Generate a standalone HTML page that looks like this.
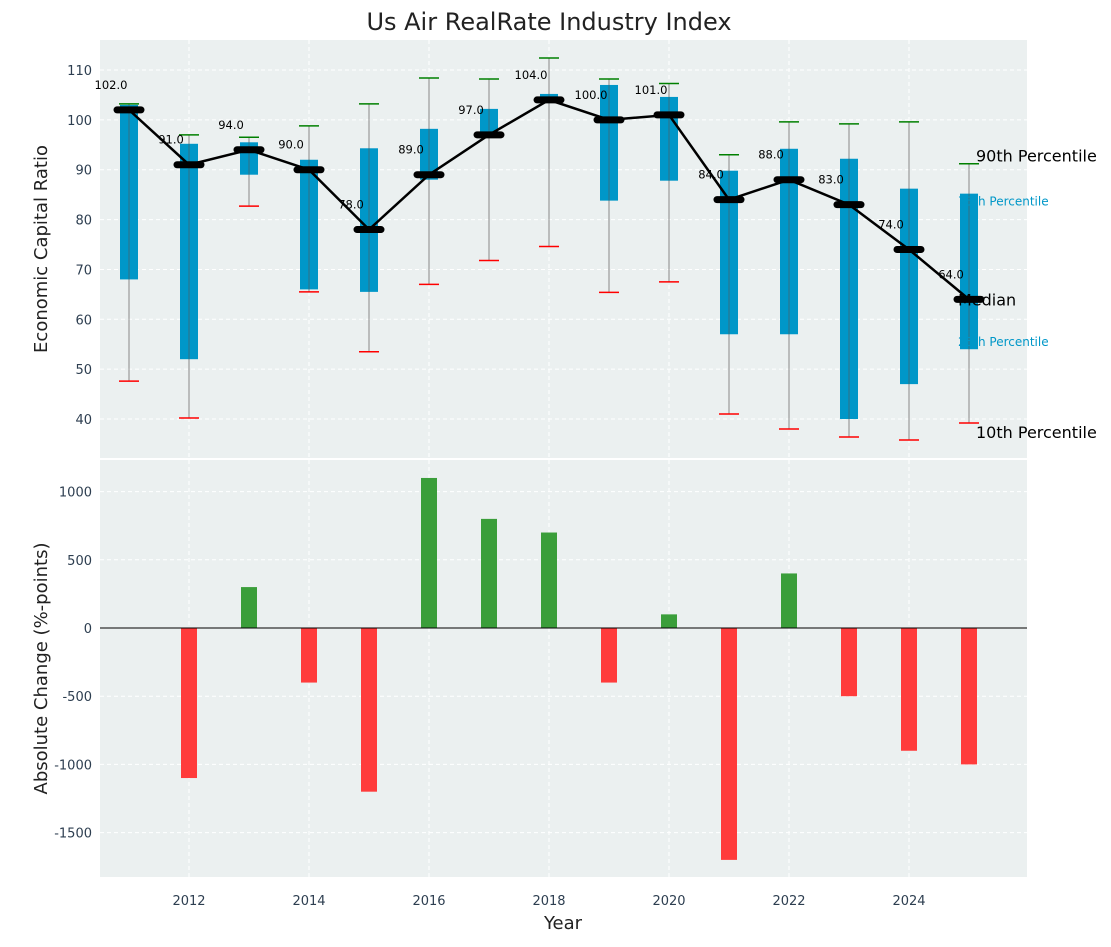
<!DOCTYPE html>
<html><head><meta charset="utf-8"><style>
body{margin:0;background:#fff;font-family:"Liberation Sans","DejaVu Sans",sans-serif;}
svg text{font-family:"DejaVu Sans","Liberation Sans",sans-serif;}
</style></head><body>
<svg id="c" width="1111" height="942" xmlns="http://www.w3.org/2000/svg"></svg>
<script>
const years=[2011,2012,2013,2014,2015,2016,2017,2018,2019,2020,2021,2022,2023,2024,2025];
const medians=[102,91,94,90,78,89,97,104,100,101,84,88,83,74,64];
const p25=[68,52,89,66,65.5,88,97,104,83.8,87.8,57,57,40,47,54];
const p75=[103,95.2,95.5,92,94.3,98.2,102.2,105.2,107,104.6,89.8,94.2,92.2,86.2,85.2];
const p10=[47.6,40.2,82.7,65.5,53.5,67,71.8,74.6,65.4,67.5,41,38,36.4,35.8,39.2];
const p90=[103.2,97,96.5,98.8,103.2,108.4,108.2,112.4,108.2,107.3,93,99.6,99.2,99.6,91.2];
const changes=[0,-1100,300,-400,-1200,1100,800,700,-400,100,-1700,400,-500,-900,-1000];
const yTicks1=[40,50,60,70,80,90,100,110];
const yTicks2=[-1500,-1000,-500,0,500,1000];
const xTicks=[2012,2014,2016,2018,2020,2022,2024];

const S=document.getElementById('c');const NS='http://www.w3.org/2000/svg';
function el(t,a,p){const e=document.createElementNS(NS,t);for(const k in a)e.setAttribute(k,a[k]);(p||S).appendChild(e);return e;}
const X0=100,X1=1027;
const x=v=>189+(v-2012)*60;
const y1=v=>70+(110-v)*4.986;
const y2=v=>628-v*0.1364;
const T1=40,B1=458,T2=460,B2=877;

let t=el('text',{x:549,y:30,'font-size':24,'text-anchor':'middle',fill:'#222'});t.textContent='Us Air RealRate Industry Index';


let bg=el('rect',{x:X0,y:T1,width:X1-X0,height:B1-T1,fill:'#ebf0f0'});

let bg2=el('rect',{x:X0,y:T2,width:X1-X0,height:B2-T2,fill:'#ebf0f0'});


xTicks.forEach(v=>{
 el('line',{x1:x(v),x2:x(v),y1:T1,y2:B1,stroke:'#fff','stroke-dasharray':'4,3'});
 el('line',{x1:x(v),x2:x(v),y1:T2,y2:B2,stroke:'#fff','stroke-dasharray':'4,3'});
 let l=el('text',{x:x(v),y:B2+28,'font-size':13,'text-anchor':'middle',fill:'#2d3e50'});l.textContent=v;
 
});
yTicks1.forEach(v=>{
 el('line',{x1:X0,x2:X1,y1:y1(v),y2:y1(v),stroke:'#fff','stroke-dasharray':'4,3'});
 let l=el('text',{x:X0-8,y:y1(v)+5,'font-size':13,'text-anchor':'end',fill:'#2d3e50'});l.textContent=v;
 
});
yTicks2.forEach(v=>{
 el('line',{x1:X0,x2:X1,y1:y2(v),y2:y2(v),stroke:'#fff','stroke-dasharray':'4,3'});
 let l=el('text',{x:X0-8,y:y2(v)+5,'font-size':13,'text-anchor':'end',fill:'#2d3e50'});l.textContent=v;
 
});

years.forEach((yr,i)=>{
 const cx=x(yr);
 let w=el('line',{x1:cx,x2:cx,y1:y1(p10[i]),y2:y1(p90[i]),stroke:'#888','stroke-width':1});
 
 let b=el('rect',{x:cx-9,y:y1(p75[i]),width:18,height:y1(p25[i])-y1(p75[i]),fill:'#0097c8'});
 
 el('line',{x1:cx,x2:cx,y1:y1(p75[i]),y2:y1(p25[i]),stroke:'#555','stroke-width':1,opacity:0.6});
 let c1=el('line',{x1:cx-10,x2:cx+10,y1:y1(p90[i]),y2:y1(p90[i]),stroke:'green','stroke-width':1.5});
 
 let c2=el('line',{x1:cx-10,x2:cx+10,y1:y1(p10[i]),y2:y1(p10[i]),stroke:'red','stroke-width':1.5});
 
});
let pl=el('polyline',{points:years.map((yr,i)=>x(yr)+','+y1(medians[i])).join(' '),fill:'none',stroke:'#000','stroke-width':2.5});

years.forEach((yr,i)=>{
 const cx=x(yr),cy=y1(medians[i]);
 let m=el('line',{x1:cx-12,x2:cx+12,y1:cy,y2:cy,stroke:'#000','stroke-width':7,'stroke-linecap':'round'});
 
 let l=el('text',{x:cx-18,y:cy-21,'font-size':11.5,'text-anchor':'middle',fill:'#000'});l.textContent=medians[i].toFixed(1);
 
});
const last=years.length-1,lx=x(years[last]);
[['90th Percentile',lx+7,y1(p90[last])-2,16,'#000','p90-annotation'],
 ['75th Percentile',lx-11,y1(p75[last])+12,12,'#0097c8','p75-annotation'],
 ['Median',lx-11,y1(medians[last])+6,16,'#000','median-annotation'],
 ['25th Percentile',lx-11,y1(p25[last])-3,12,'#0097c8','p25-annotation'],
 ['10th Percentile',lx+7,y1(p10[last])+15,16,'#000','p10-annotation']].forEach(a=>{
 let l=el('text',{x:a[1],y:a[2],'font-size':a[3],fill:a[4]});l.textContent=a[0];
 
});

years.forEach((yr,i)=>{
 const v=changes[i];if(v===0)return;
 const top=Math.min(y2(v),y2(0)),h=Math.abs(y2(v)-y2(0));
 let r=el('rect',{x:x(yr)-8,y:top,width:16,height:h,fill:v>0?'#3a9e3a':'#ff3b3b'});
 
});
el('line',{x1:X0,x2:X1,y1:y2(0),y2:y2(0),stroke:'#000','stroke-width':1});

let a1=el('text',{x:47,y:(T1+B1)/2,'font-size':18,'text-anchor':'middle',fill:'#222',transform:`rotate(-90 47 ${(T1+B1)/2})`});a1.textContent='Economic Capital Ratio';

let a2=el('text',{x:47,y:(T2+B2)/2,'font-size':18,'text-anchor':'middle',fill:'#222',transform:`rotate(-90 47 ${(T2+B2)/2})`});a2.textContent='Absolute Change (%-points)';

let a3=el('text',{x:563,y:929,'font-size':18,'text-anchor':'middle',fill:'#222'});a3.textContent='Year';

</script>
</body></html>
